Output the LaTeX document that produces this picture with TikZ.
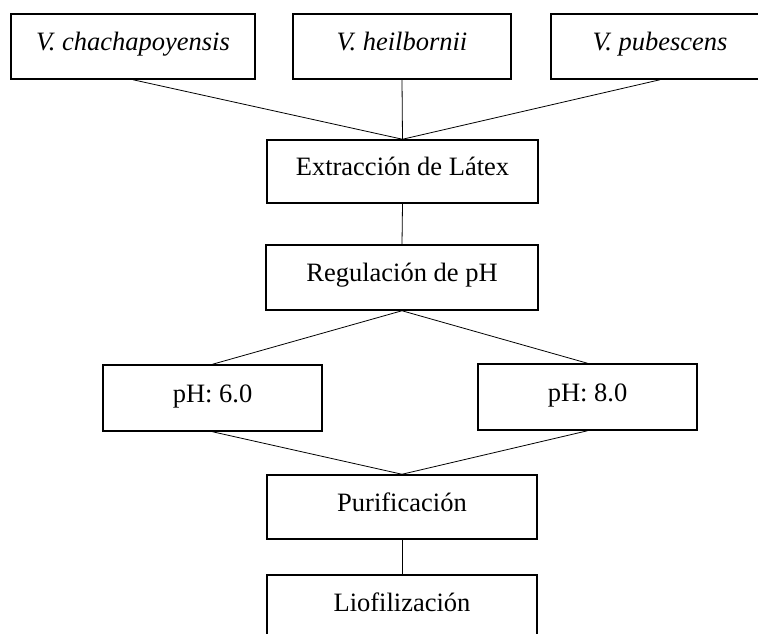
\documentclass[tikz,border=0pt]{standalone}
\usepackage{fontspec}
\setmainfont{Liberation Serif}
\begin{document}
\begin{tikzpicture}[x=1pt,y=-1pt,
  stepbox/.style={draw=black, line width=1.5pt, rectangle, inner sep=0pt,
    text height=18.5pt, text depth=10.5pt,
    font=\fontsize{26.5}{30}\selectfont, fill=white},
  conn/.style={draw=black, line width=0.8pt}]
\useasboundingbox (0,0) rectangle (758,634);
\clip (0,0) rectangle (758,634);
\node[stepbox, minimum width=244pt, minimum height=65pt] (chach) at (133,46.5) {\itshape V. chachapoyensis};
\node[stepbox, minimum width=218pt, minimum height=65pt] (heil) at (402,46.5) {\itshape V. heilbornii};
\node[stepbox, minimum width=218pt, minimum height=65pt] (pub) at (660,46.5) {\itshape V. pubescens};
\node[stepbox, minimum width=271pt, minimum height=63pt] (extr) at (402.5,171.5) {Extracción de Látex};
\node[stepbox, minimum width=272pt, minimum height=65pt] (reg) at (402,277.5) {Regulación de pH};
\node[stepbox, minimum width=219pt, minimum height=66pt] (ph6) at (212.5,398) {pH: 6.0};
\node[stepbox, minimum width=219pt, minimum height=66pt] (ph8) at (587.5,397) {pH: 8.0};
\node[stepbox, minimum width=270pt, minimum height=64pt] (pur) at (402,507) {Purificación};
\node[stepbox, minimum width=270pt, minimum height=64pt] (lio) at (402,607) {Liofilización};
\draw[conn] (chach.south) -- (extr.north);
\draw[conn] (heil.south) -- (extr.north);
\draw[conn] (pub.south) -- (extr.north);
\draw[conn] (extr.south) -- (reg.north);
\draw[conn] (reg.south) -- (ph6.north);
\draw[conn] (reg.south) -- (ph8.north);
\draw[conn] (ph6.south) -- (pur.north);
\draw[conn] (ph8.south) -- (pur.north);
\draw[conn] (pur.south) -- (lio.north);
\end{tikzpicture}
\end{document}
